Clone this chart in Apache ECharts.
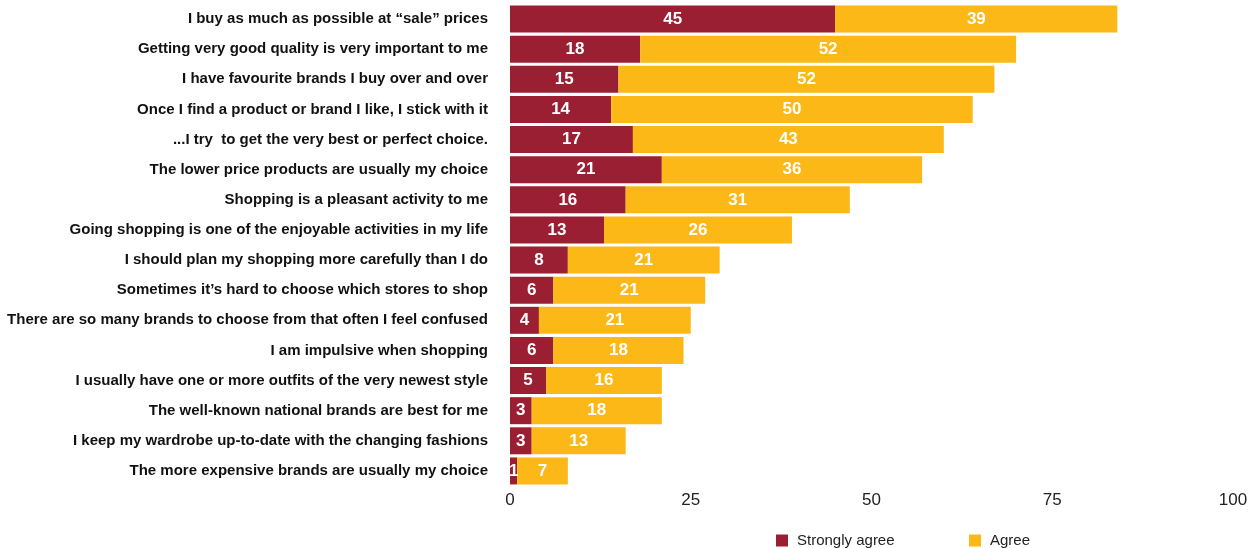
<!DOCTYPE html>
<html>
<head>
<meta charset="utf-8">
<style>
  html, body { margin: 0; padding: 0; background: #fff; }
  #chart { width: 1256px; height: 548px; }
</style>
<script src="https://cdn.jsdelivr.net/npm/echarts@6/dist/echarts.min.js"></script>
</head>
<body>
<div id="chart"></div>
<script>
// Shopping attitude statements, listed top to bottom
const categories = [
  'I buy as much as possible at \u201csale\u201d prices',
  'Getting very good quality is very important to me',
  'I have favourite brands I buy over and over',
  'Once I find a product or brand I like, I stick with it',
  '...I try  to get the very best or perfect choice.',
  'The lower price products are usually my choice',
  'Shopping is a pleasant activity to me',
  'Going shopping is one of the enjoyable activities in my life',
  'I should plan my shopping more carefully than I do',
  'Sometimes it\u2019s hard to choose which stores to shop',
  'There are so many brands to choose from that often I feel confused',
  'I am impulsive when shopping',
  'I usually have one or more outfits of the very newest style',
  'The well-known national brands are best for me',
  'I keep my wardrobe up-to-date with the changing fashions',
  'The more expensive brands are usually my choice'
];
const stronglyAgree = [45, 18, 15, 14, 17, 21, 16, 13, 8, 6, 4, 6, 5, 3, 3, 1];
const agree = [39, 52, 52, 50, 43, 36, 31, 26, 21, 21, 21, 18, 16, 18, 13, 7];
const xTicks = { min: 0, max: 100, interval: 25 };

const RED = '#9a1f33';
const YELLOW = '#fbb817';
const FONT = '"Liberation Sans", Arial, Helvetica, sans-serif';

const chart = echarts.init(document.getElementById('chart'));

const valueLabel = {
  show: true,
  position: 'inside',
  color: '#fff',
  fontFamily: FONT,
  fontWeight: 'bold',
  fontSize: 17
};

const legendText = { fontSize: 15, color: '#222', fontFamily: FONT, padding: [0, 0, 0, 4] };

chart.setOption({
  animation: false,
  textStyle: { fontFamily: FONT },
  grid: { left: 510, right: 23, top: 4, height: 482, containLabel: false },
  legend: [
    {
      data: ['Strongly agree'],
      left: 776, top: 533, padding: 0,
      itemWidth: 12, itemHeight: 12, icon: 'rect',
      textStyle: legendText
    },
    {
      data: ['Agree'],
      left: 969, top: 533, padding: 0,
      itemWidth: 12, itemHeight: 12, icon: 'rect',
      textStyle: legendText
    }
  ],
  xAxis: {
    type: 'value',
    min: xTicks.min, max: xTicks.max, interval: xTicks.interval,
    axisLine: { show: false },
    axisTick: { show: false },
    splitLine: { show: false },
    axisLabel: { color: '#222', fontSize: 17, fontFamily: FONT, margin: 6 }
  },
  yAxis: {
    type: 'category',
    inverse: true,
    data: categories,
    axisLine: { show: false },
    axisTick: { show: false },
    axisLabel: {
      color: '#111', fontSize: 15, fontWeight: 'bold', fontFamily: FONT, margin: 22,
      padding: [4, 0, 0, 0]
    }
  },
  series: [
    {
      name: 'Strongly agree', type: 'bar', stack: 'total',
      barWidth: 27,
      itemStyle: { color: RED },
      label: valueLabel,
      data: stronglyAgree
    },
    {
      name: 'Agree', type: 'bar', stack: 'total',
      barWidth: 27,
      itemStyle: { color: YELLOW },
      label: valueLabel,
      data: agree
    }
  ]
});
</script>
</body>
</html>
